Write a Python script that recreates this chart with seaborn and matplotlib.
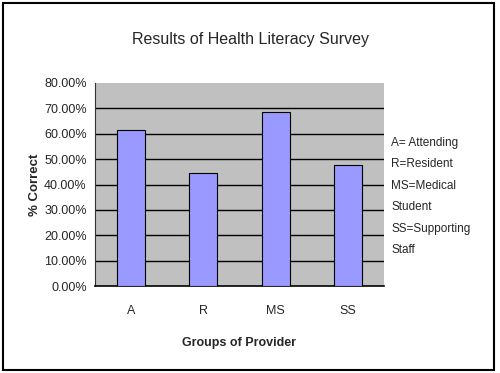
import matplotlib
matplotlib.use("Agg")
import matplotlib.pyplot as plt
import seaborn as sns
import pandas as pd
from matplotlib.patches import Rectangle
from matplotlib.ticker import FuncFormatter, MultipleLocator

categories = ["A", "R", "MS", "SS"]
values = [61.4, 44.5, 68.4, 47.6]
legend_lines = ["A= Attending", "R=Resident", "MS=Medical", "Student", "SS=Supporting", "Staff"]

df = pd.DataFrame({"group": categories, "pct": values})

sns.set_style("white")
plt.rcParams["font.family"] = ["Liberation Sans", "DejaVu Sans"]

fig = plt.figure(figsize=(5, 3.73), dpi=100)
ax = fig.add_axes([0.19, 0.2332, 0.578, 0.5443])

sns.barplot(data=df, x="group", y="pct", color="#9999FF", edgecolor="black",
            linewidth=0.8, width=0.39, saturation=1, ax=ax, zorder=3)

ax.set_facecolor("#C0C0C0")
ax.set_ylim(0, 80)
ax.yaxis.set_major_locator(MultipleLocator(10))
ax.yaxis.set_major_formatter(FuncFormatter(lambda v, p: f"{v:.2f}%"))
ax.set_axisbelow(True)
for t in range(10, 80, 10):
    ax.axhline(t, color="black", linewidth=1.0, zorder=0)
for s in ["top", "right"]:
    ax.spines[s].set_visible(False)
ax.spines["left"].set_color("#333333")
ax.spines["bottom"].set_color("black")
ax.spines["bottom"].set_linewidth(1.2)
ax.set_xticks([-0.5, 0.5, 1.5, 2.5], minor=True)
ax.set_xlim(-0.5, 3.5)
ax.tick_params(axis="x", which="major", length=0, pad=14, labelsize=9)
ax.tick_params(axis="x", which="minor", length=4, width=1, color="black", direction="out")
ax.tick_params(axis="y", length=4, width=1, color="black", direction="out", labelsize=9, pad=2)
ax.set_xlabel("Groups of Provider", fontsize=9, fontweight="bold", labelpad=14)
ax.set_ylabel("% Correct", fontsize=9.5, fontweight="bold", labelpad=2)

fig.text(0.5, 0.895, "Results of Health Literacy Survey", ha="center", va="center", fontsize=11.5)

y0 = 0.617
for i, line in enumerate(legend_lines):
    fig.text(0.782, y0 - i * 0.0575, line, ha="left", va="center", fontsize=8.5)

fig.patches.append(Rectangle((0.006, 0.008), 0.982, 0.984, transform=fig.transFigure,
                             fill=False, edgecolor="black", linewidth=1.5))

fig.savefig("out.png", dpi=100)
